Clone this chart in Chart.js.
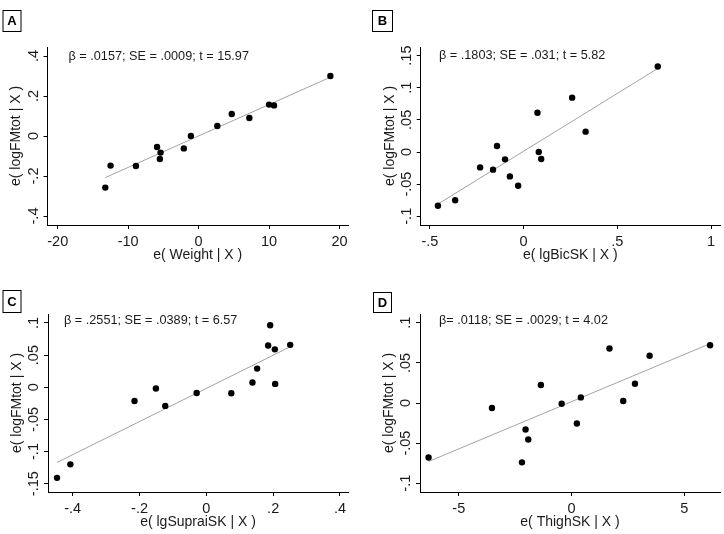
<!DOCTYPE html>
<html>
<head>
<meta charset="utf-8">
<script src="https://cdn.jsdelivr.net/npm/chart.js@4.4.1/dist/chart.umd.min.js"></script>
<style>
  body { margin: 0; background: #fff; }
  #wrap { position: relative; width: 724px; height: 534px; background: #fff; }
  .panel { position: absolute; width: 362px; height: 267px; }
</style>
</head>
<body>
<div id="wrap">
  <div class="panel" style="left:0;top:0"><canvas id="cA" width="362" height="267"></canvas></div>
  <div class="panel" style="left:362px;top:0"><canvas id="cB" width="362" height="267"></canvas></div>
  <div class="panel" style="left:0;top:267px"><canvas id="cC" width="362" height="267"></canvas></div>
  <div class="panel" style="left:362px;top:267px"><canvas id="cD" width="362" height="267"></canvas></div>
</div>
<script>
// --- data ---
const weightX = [-13.25, -12.5, -8.9, -5.9, -5.4, -5.5, -2.1, -1.1, 2.65, 4.7, 7.2, 10.0, 10.7, 18.7];
const weightY = [-0.258, -0.148, -0.15, -0.055, -0.083, -0.115, -0.062, 0.0, 0.05, 0.11, 0.09, 0.157, 0.153, 0.30];
const weightFit = [[-13.25, -0.208], [18.7, 0.294]];
const weightXTicks = [-20, -10, 0, 10, 20];
const weightXLabels = ['-20', '-10', '0', '10', '20'];
const weightYTicks = [-0.4, -0.2, 0, 0.2, 0.4];
const weightYLabels = ['-.4', '-.2', '0', '.2', '.4'];

const bicX = [-0.457, -0.365, -0.232, -0.163, -0.142, -0.099, -0.073, -0.029, 0.074, 0.081, 0.094, 0.259, 0.331, 0.716];
const bicY = [-0.0836, -0.075, -0.024, -0.0275, 0.0093, -0.0114, -0.038, -0.0525, 0.061, 0.0, -0.011, 0.0846, 0.0317, 0.133];
const bicFit = [[-0.457, -0.081], [0.716, 0.130]];
const bicXTicks = [-0.5, 0, 0.5, 1];
const bicXLabels = ['-.5', '0', '.5', '1'];
const bicYTicks = [-0.1, -0.05, 0, 0.05, 0.1, 0.15];
const bicYLabels = ['-.1', '-.05', '0', '.05', '.1', '.15'];

const supraX = [-0.447, -0.407, -0.215, -0.151, -0.123, -0.029, 0.0746, 0.138, 0.152, 0.185, 0.191, 0.205, 0.206, 0.251];
const supraY = [-0.141, -0.120, -0.0213, -0.002, -0.029, -0.0089, -0.0093, 0.0073, 0.029, 0.065, 0.0966, 0.059, 0.0052, 0.066];
const supraFit = [[-0.447, -0.117], [0.251, 0.063]];
const supraXTicks = [-0.4, -0.2, 0, 0.2, 0.4];
const supraXLabels = ['-.4', '-.2', '0', '.2', '.4'];
const supraYTicks = [-0.15, -0.1, -0.05, 0, 0.05, 0.1];
const supraYLabels = ['-.15', '-.1', '-.05', '0', '.05', '.1'];

const thighX = [-6.34, -3.53, -2.2, -2.04, -1.92, -1.36, -0.44, 0.235, 0.41, 1.68, 2.29, 2.81, 3.46, 6.14];
const thighY = [-0.068, -0.0063, -0.074, -0.033, -0.0455, 0.0225, -0.001, -0.0255, 0.007, 0.068, 0.0025, 0.024, 0.059, 0.072];
const thighFit = [[-6.34, -0.073], [6.14, 0.074]];
const thighXTicks = [-5, 0, 5];
const thighXLabels = ['-5', '0', '5'];
const thighYTicks = [-0.1, -0.05, 0, 0.05, 0.1];
const thighYLabels = ['-.1', '-.05', '0', '.05', '.1'];

const FONT = '"Liberation Sans", Arial, sans-serif';
const INK = '#1a1a1a';

// draws Stata-like texts: tick labels, axis titles, stats line, panel letter
function textPlugin(o) {
  return {
    id: 'stataText',
    afterDraw(chart) {
      const ctx = chart.ctx;
      const xs = chart.scales.x, ys = chart.scales.y;
      const a = chart.chartArea;
      ctx.save();
      ctx.fillStyle = INK;
      ctx.font = '14.5px ' + FONT;
      ctx.textAlign = 'center';
      ctx.textBaseline = 'middle';
      o.xt.forEach((v, i) => ctx.fillText(o.xl[i], xs.getPixelForValue(v), a.bottom + 16.5));
      o.yt.forEach((v, i) => {
        ctx.save();
        ctx.translate(a.left - 14, ys.getPixelForValue(v));
        ctx.rotate(-Math.PI / 2);
        ctx.fillText(o.yl[i], 0, 0);
        ctx.restore();
      });
      ctx.font = '14px ' + FONT;
      ctx.fillText(o.xTitle, (a.left + a.right) / 2, a.bottom + 30.5);
      ctx.save();
      ctx.translate(a.left - 31, (a.top + a.bottom) / 2);
      ctx.rotate(-Math.PI / 2);
      ctx.fillText('e( logFMtot | X )', 0, 0);
      ctx.restore();

      ctx.font = '12.7px ' + FONT;
      ctx.textAlign = 'left';
      ctx.fillText(o.stat, o.statPos[0], o.statPos[1]);

      const b = o.box;
      ctx.strokeStyle = '#000';
      ctx.lineWidth = 1;
      ctx.strokeRect(b[0] + 0.5, b[1] + 0.5, b[2], b[3]);
      ctx.font = 'bold 13px ' + FONT;
      ctx.textAlign = 'center';
      ctx.fillStyle = '#000';
      ctx.fillText(o.letter, b[0] + b[2] / 2 + 0.5, b[1] + b[3] / 2 + 1);
      ctx.restore();
    }
  };
}

function axis(range, ticks, sizeFn) {
  return {
    type: 'linear',
    min: range[0],
    max: range[1],
    afterBuildTicks: (s) => { s.ticks = ticks.map(v => ({ value: v })); },
    afterFit: sizeFn,
    ticks: { display: false },
    grid: { drawOnChartArea: false, drawTicks: true, tickLength: 4, color: '#000', lineWidth: 1 },
    border: { display: true, color: '#000', width: 1 }
  };
}

function makePanel(id, o) {
  const area = o.area; // left, top, right, bottom inside the canvas
  new Chart(document.getElementById(id), {
    type: 'scatter',
    data: {
      datasets: [
        {
          type: 'line',
          data: o.fit.map(p => ({ x: p[0], y: p[1] })),
          borderColor: '#a3a3a3',
          borderWidth: 1,
          pointRadius: 0,
          fill: false,
          order: 2
        },
        {
          data: o.xs.map((x, i) => ({ x: x, y: o.ys[i] })),
          backgroundColor: '#000',
          borderColor: '#000',
          borderWidth: 0,
          pointRadius: 3.2,
          order: 1
        }
      ]
    },
    options: {
      responsive: false,
      animation: false,
      layout: { padding: { left: 0, top: area[1], right: 362 - area[2], bottom: 0 } },
      plugins: { legend: { display: false }, tooltip: { enabled: false } },
      scales: {
        x: axis(o.xr, o.xt, (s) => { s.height = 267 - area[3]; }),
        y: axis(o.yr, o.yt, (s) => { s.width = area[0]; })
      }
    },
    plugins: [textPlugin(o)]
  });
}

makePanel('cA', {
  xs: weightX, ys: weightY, fit: weightFit,
  xt: weightXTicks, xl: weightXLabels, yt: weightYTicks, yl: weightYLabels,
  xr: [-21.45, 21.2], yr: [-0.445, 0.445],
  area: [47.5, 47, 348, 225],
  xTitle: 'e( Weight | X )',
  stat: 'β = .0157; SE = .0009; t = 15.97', statPos: [68.5, 56],
  letter: 'A', box: [2.5, 10, 18, 21]
});

makePanel('cB', {
  xs: bicX, ys: bicY, fit: bicFit,
  xt: bicXTicks, xl: bicXLabels, yt: bicYTicks, yl: bicYLabels,
  xr: [-0.549, 1.048], yr: [-0.1136, 0.1634],
  area: [58.7, 47, 358.3, 225],
  xTitle: 'e( lgBicSK | X )',
  stat: 'β = .1803; SE = .031; t = 5.82', statPos: [77, 55],
  letter: 'B', box: [10, 10, 20, 21]
});

makePanel('cC', {
  xs: supraX, ys: supraY, fit: supraFit,
  xt: supraXTicks, xl: supraXLabels, yt: supraYTicks, yl: supraYLabels,
  xr: [-0.474, 0.424], yr: [-0.163, 0.114],
  area: [48, 47, 348, 225],
  xTitle: 'e( lgSupraiSK | X )',
  stat: 'β = .2551; SE = .0389; t = 6.57', statPos: [64, 53],
  letter: 'C', box: [2.5, 23, 18, 22]
});

makePanel('cD', {
  xs: thighX, ys: thighY, fit: thighFit,
  xt: thighXTicks, xl: thighXLabels, yt: thighYTicks, yl: thighYLabels,
  xr: [-6.72, 6.58], yr: [-0.111, 0.111],
  area: [58, 47, 359, 225],
  xTitle: 'e( ThighSK | X )',
  stat: 'β= .0118; SE = .0029; t = 4.02', statPos: [77, 53],
  letter: 'D', box: [11, 25, 18, 20]
});
</script>
</body>
</html>
